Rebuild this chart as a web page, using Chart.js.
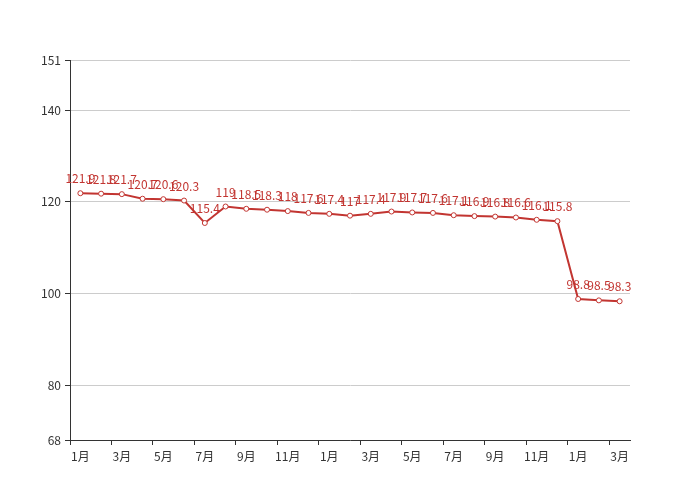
<!DOCTYPE html>
<html><head><meta charset="utf-8">
<script src="https://cdn.jsdelivr.net/npm/chart.js@4"></script>
<style>html,body{margin:0;padding:0;background:#fff}#wrap{width:700px;height:500px}</style>
</head><body><div id="wrap"><canvas id="c" width="700" height="500"></canvas></div>
<script>
const categories = ['1月','2月','3月','4月','5月','6月','7月','8月','9月','10月','11月','12月',
  '1月','2月','3月','4月','5月','6月','7月','8月','9月','10月','11月','12月',
  '1月','2月','3月'];
const values = [121.9,121.8,121.7,120.7,120.6,120.3,115.4,119,118.5,118.3,118,117.6,
  117.4,117,117.4,117.9,117.7,117.6,117.1,116.9,116.8,116.6,116.1,115.8,
  98.8,98.5,98.3];
const yTicks = [68,80,100,120,140,151];
const RED = '#c23531';
const FONT = '"Noto Sans CJK SC", "Noto Sans", sans-serif';

const labelPlugin = {
  id: 'pointLabels',
  afterDatasetsDraw(chart) {
    const ctx = chart.ctx;
    const meta = chart.getDatasetMeta(0);
    ctx.save();
    ctx.fillStyle = RED;
    ctx.font = '12px ' + FONT;
    ctx.textAlign = 'center';
    ctx.textBaseline = 'alphabetic';
    meta.data.forEach((pt, i) => {
      ctx.fillText(String(values[i]), pt.x, pt.y - 10);
    });
    ctx.restore();
  }
};

new Chart(document.getElementById('c'), {
  type: 'line',
  data: {
    labels: categories,
    datasets: [{
      data: values,
      borderColor: RED,
      borderWidth: 2,
      pointRadius: 2.5,
      pointBorderWidth: 1,
      pointBackgroundColor: '#fff',
      pointBorderColor: RED,
      tension: 0
    }]
  },
  options: {
    responsive: false,
    animation: false,
    devicePixelRatio: 1,
    layout: { padding: { left: 0, top: 60, right: 70, bottom: 0 } },
    plugins: { legend: { display: false }, tooltip: { enabled: false } },
    scales: {
      x: {
        type: 'category',
        offset: true,
        afterFit(s) { s.height = 60; },
        grid: {
          offset: true,
          drawOnChartArea: false,
          drawTicks: true,
          tickLength: 5,
          color: (c) => (c.index % 2 === 0 || c.index === categories.length) ? '#333' : 'rgba(0,0,0,0)'
        },
        border: { display: true, color: '#333', width: 1 },
        ticks: {
          autoSkip: false,
          maxRotation: 0,
          padding: 4,
          color: '#333',
          font: { size: 12, family: FONT },
          callback: (v, i) => i % 2 === 0 ? categories[i] : ''
        }
      },
      y: {
        min: 68,
        max: 151,
        afterFit(s) { s.width = 70; },
        afterBuildTicks(s) { s.ticks = yTicks.map(v => ({ value: v })); },
        grid: { color: '#ccc', tickColor: '#333', tickLength: 5 },
        border: { display: true, color: '#333', width: 1 },
        ticks: {
          padding: 4,
          color: '#333',
          font: { size: 12, family: FONT }
        }
      }
    }
  },
  plugins: [labelPlugin]
});
</script>
</body></html>
